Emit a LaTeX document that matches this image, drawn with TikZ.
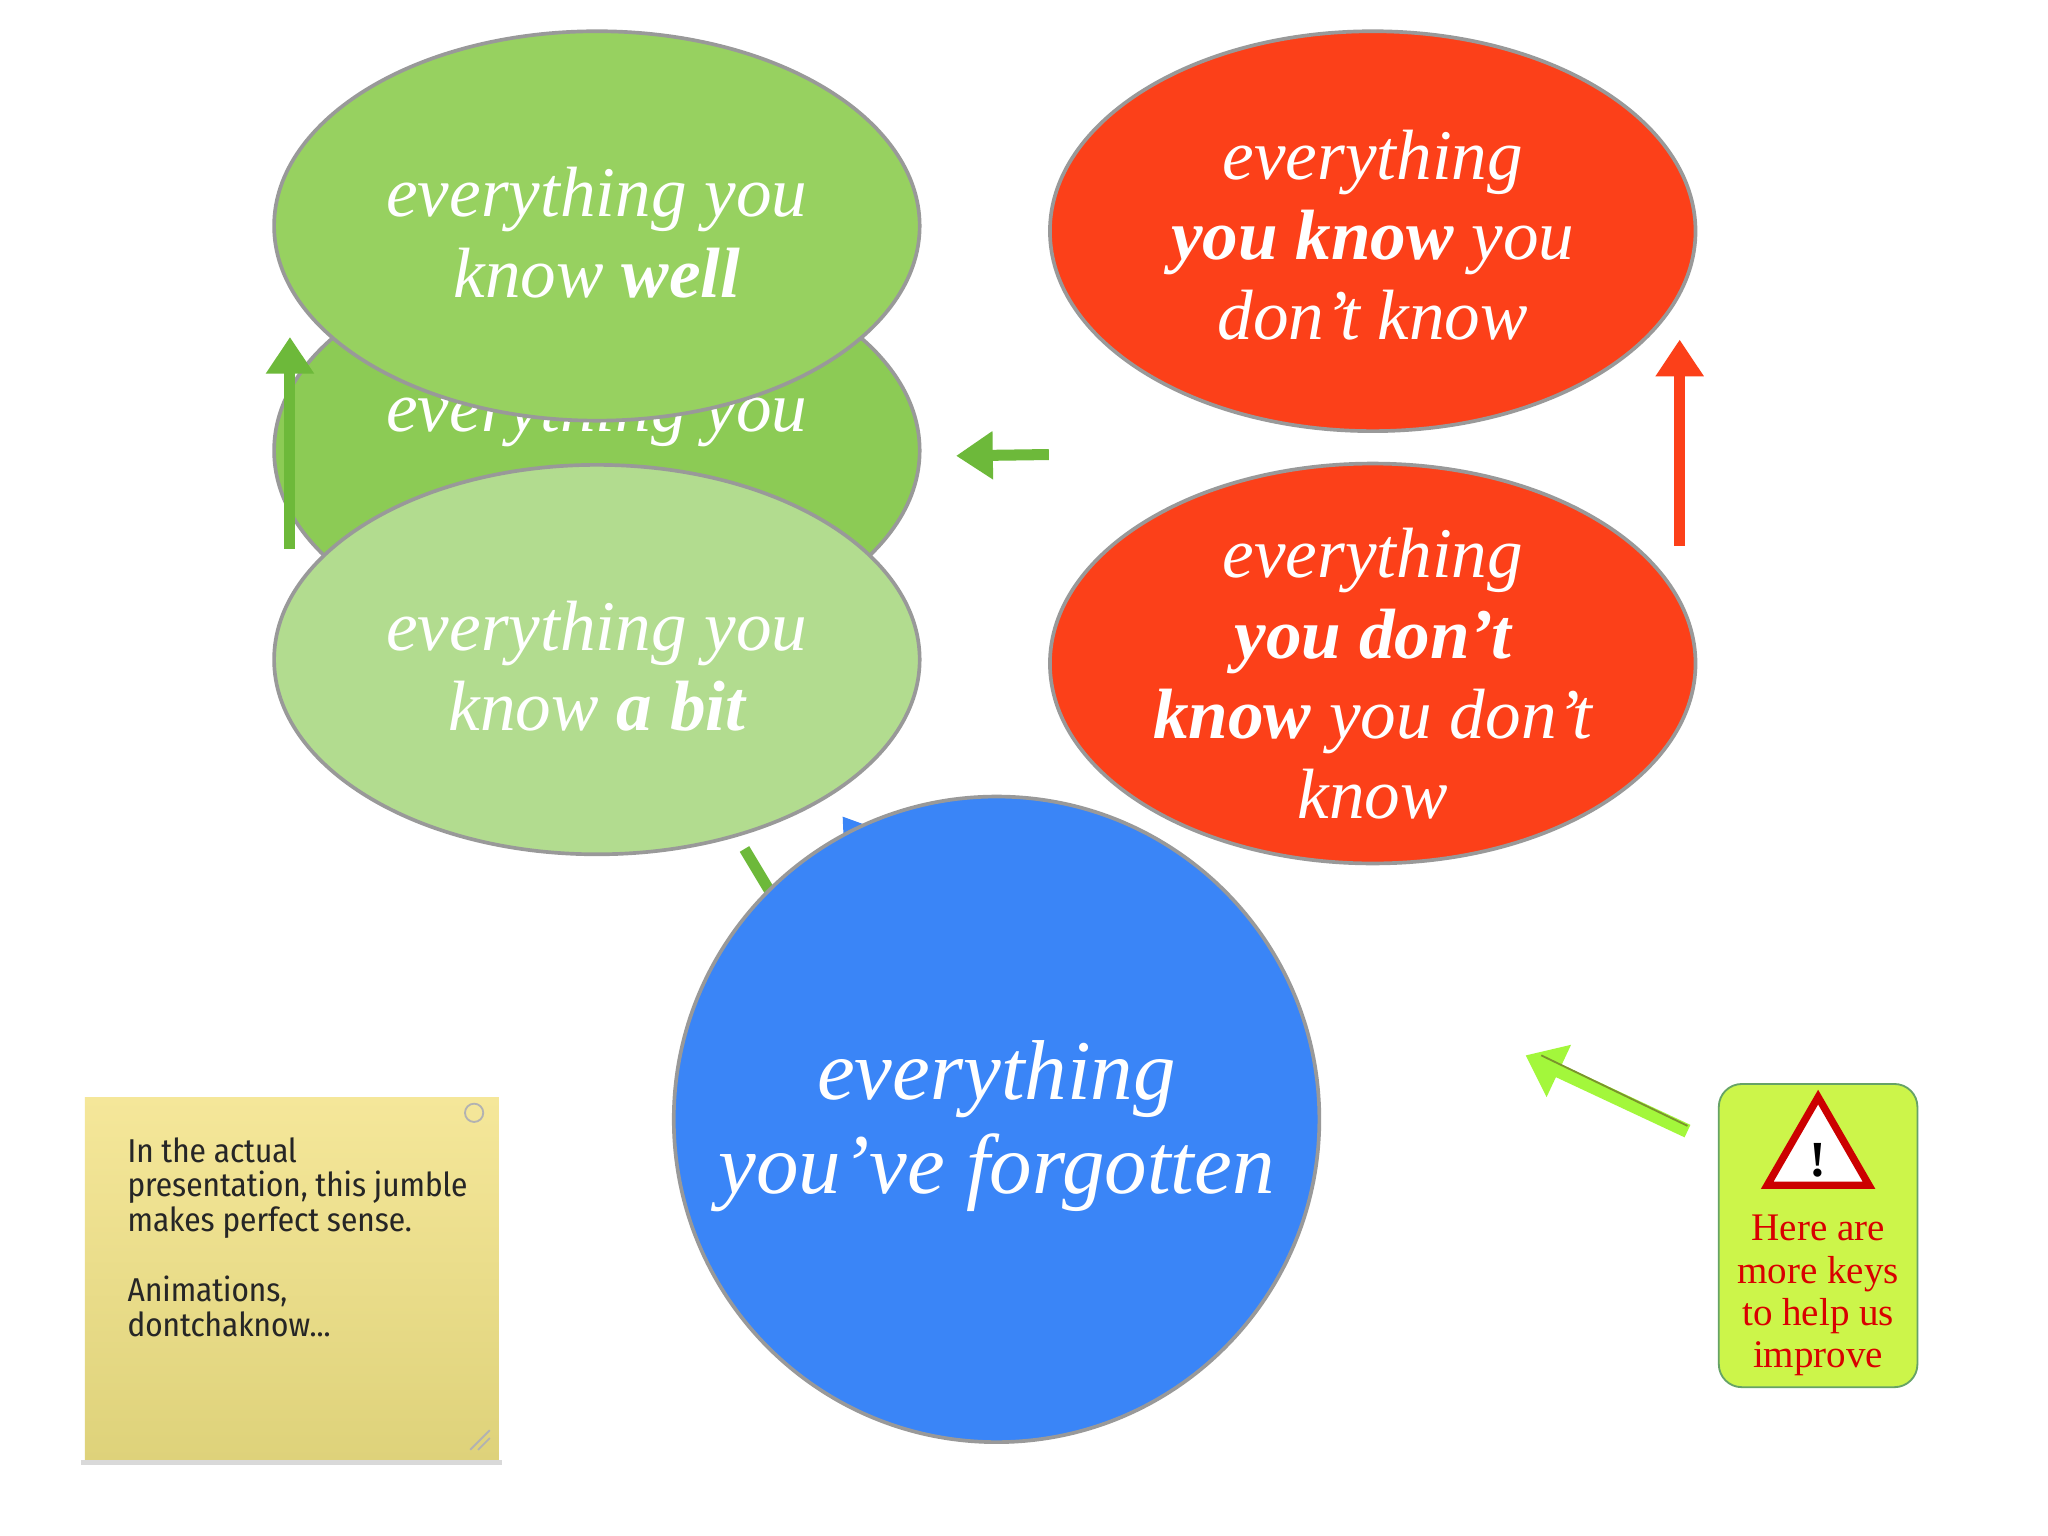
\documentclass[tikz,border=0pt]{standalone}
\usepackage{fontspec}
\setmainfont{Liberation Serif}
\newfontfamily\notefont{Fira Sans Condensed}
\usetikzlibrary{arrows.meta,shapes.geometric}
\definecolor{gA}{HTML}{97D160}
\definecolor{gB}{HTML}{8CCB55}
\definecolor{gC}{HTML}{B2DC8F}
\definecolor{rA}{HTML}{FC4019}
\definecolor{bA}{HTML}{3A85F7}
\definecolor{lime}{HTML}{CCF54A}
\definecolor{arrG}{HTML}{6DB93A}
\definecolor{noteY}{HTML}{F5E79A}
\definecolor{noteY2}{HTML}{DED27A}
\tikzset{
 bub/.style={ellipse,draw=gray!80,line width=0.8pt,inner sep=0pt,minimum width=4.94cm,minimum height=2.98cm},
 btxt/.style={text=white,align=center,font=\fontsize{15.5}{17.5}\selectfont\itshape},
 fat/.style={line width=2.4pt,-{Triangle[length=8pt,width=10pt]}}
}
\begin{document}
\begin{tikzpicture}[x=0.01cm,y=-0.01cm]
\useasboundingbox (0,0) rectangle (1568,1176);
\fill[white] (0,0) rectangle (1568,1176);
\node[bub,fill=gB,minimum height=3.0cm] (mid) at (457,345) {};
\node[btxt,anchor=base] (midt) at (457,330) {everything you};
\coordinate (bt) at (645,625);
\coordinate (gt) at (570,650);
\draw[bA,fat] (700,700) -- (bt);
\draw[arrG,line width=2.4pt] (600,700) -- (gt);
\node[bub,fill=gA] (well) at (457,173) {};
\node[btxt] (wellt) at (457,178) {everything you\\know \textbf{well}};
\node[bub,fill=gC] (bit) at (457,505) {};
\node[btxt] (bitt) at (457,510) {everything you\\know \textbf{a bit}};
\node[bub,fill=rA,minimum height=3.06cm] (kdk) at (1051,177) {};
\node[btxt] (kdkt) at (1051,180) {everything\\\textbf{you know} you\\don’t know};
\node[bub,fill=rA,minimum height=3.06cm] (dkdk) at (1051,508) {};
\node[btxt] (dkdkt) at (1051,516) {everything\\\textbf{you don’t}\\\textbf{know} you don’t\\know};
\node[circle,draw=gray!80,line width=0.8pt,fill=bA,minimum size=4.94cm,inner sep=0pt] (forg) at (763,857) {};
\node[text=white,align=center,font=\fontsize{18.5}{20.5}\selectfont\itshape] (forgt) at (763,862) {everything\\you’ve forgotten};
\coordinate (a1s) at (222,420); \coordinate (a1e) at (222,258);
\draw[arrG,fat] (a1s) -- (a1e);
\coordinate (a2s) at (803,348); \coordinate (a2e) at (732,349);
\draw[arrG,fat] (a2s) -- (a2e);
\coordinate (a3s) at (1286,418); \coordinate (a3e) at (1286,260);
\draw[rA,fat] (a3s) -- (a3e);
\coordinate (a4s) at (1292,866); \coordinate (a4e) at (1168,808);
\draw[lime!80!green,line width=3pt,-{Triangle[length=8pt,width=12pt]}] (a4s) -- (a4e);
\draw[black!40!lime,line width=0.4pt] (1292,862) -- (1180,808);
\shade[top color=noteY,bottom color=noteY2] (65,840) rectangle (382,1118);
\fill[gray!30] (62,1118) rectangle (384,1122);
\node[anchor=north west,align=left,inner sep=0pt,font=\notefont\fontsize{7.2}{7.6}\selectfont,text=black!85] (note) at (97,870) {In the actual\\presentation, this jumble\\makes perfect sense.\\[7.6pt]Animations,\\dontchaknow...};
\draw[gray!60] (363,852) circle (7);
\draw[gray!60] (360,1110) -- (375,1095) (366,1110) -- (375,1101);
\node[draw=green!40!black!60,rounded corners=5pt,fill=lime,minimum width=1.52cm,minimum height=2.32cm] (key) at (1392,946) {};
\node[regular polygon,regular polygon sides=3,fill=white,draw=red!80!black,line width=1.6pt,minimum size=0.9cm,inner sep=0pt] (warn) at (1392,885) {};
\node[font=\bfseries\fontsize{11}{11}\selectfont] (bang) at (1392,888) {!};
\node[text=red!85!black,align=center,font=\fontsize{8.5}{9.2}\selectfont] (keyt) at (1392,992) {Here are\\more keys\\to help us\\improve};
\end{tikzpicture}
\end{document}
